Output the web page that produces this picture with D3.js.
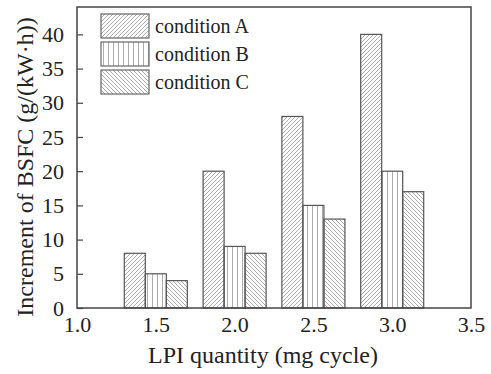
<!DOCTYPE html>
<html>
<head>
<meta charset="utf-8">
<script src="https://cdn.jsdelivr.net/npm/d3@7"></script>
<style>
  body { margin: 0; background: #fff; }
  svg { display: block; }
</style>
</head>
<body>
<script>
const quantities = [1.5, 2.0, 2.5, 3.0]
const conditions = ['condition A', 'condition B', 'condition C']
const conditionA = [8, 20, 28, 40]
const conditionB = [5, 9, 15, 20]
const conditionC = [4, 8, 13, 17]
const xTicks = [1.0, 1.5, 2.0, 2.5, 3.0, 3.5]
const yTicks = [0, 5, 10, 15, 20, 25, 30, 35, 40]

const series = [conditionA, conditionB, conditionC]
const rows = []
quantities.forEach((q, i) => {
  conditions.forEach((c, j) => rows.push({q, c, j, value: series[j][i]}))
})

const width = 491
const height = 374
const margin = {top: 7, right: 20, bottom: 66, left: 77}
const font = "'Liberation Serif', 'Times New Roman', serif"
const ink = '#444'

const svg = d3.select('body').append('svg')
  .attr('width', width)
  .attr('height', height)

// hatch patterns, one per condition
const hatch = ['hatchA', 'hatchB', 'hatchC']
const defs = svg.append('defs')
const s = 4
defs.append('pattern')
  .attr('id', 'hatchA').attr('patternUnits', 'userSpaceOnUse')
  .attr('width', s).attr('height', s)
  .append('path')
  .attr('d', `M-1,1 l2,-2 M0,${s} l${s},-${s} M${s - 1},${s + 1} l2,-2`)
  .attr('stroke', '#888').attr('stroke-width', 0.7)
defs.append('pattern')
  .attr('id', 'hatchB').attr('patternUnits', 'userSpaceOnUse')
  .attr('width', 5).attr('height', 5)
  .append('path')
  .attr('d', 'M2.5,0 V5')
  .attr('stroke', '#888').attr('stroke-width', 0.7)
defs.append('pattern')
  .attr('id', 'hatchC').attr('patternUnits', 'userSpaceOnUse')
  .attr('width', s).attr('height', s)
  .append('path')
  .attr('d', `M-1,${s - 1} l2,2 M0,0 l${s},${s} M${s - 1},-1 l2,2`)
  .attr('stroke', '#888').attr('stroke-width', 0.7)

const x = d3.scaleLinear()
  .domain([1.0, 3.5])
  .range([margin.left, width - margin.right])

const y = d3.scaleLinear()
  .domain([0, 44])
  .range([height - margin.bottom, margin.top])

const barW = x(1 + 0.1333) - x(1)

// bars
svg.append('g')
  .selectAll('rect')
  .data(rows)
  .join('rect')
    .attr('x', d => x(d.q) + (d.j - 1.5) * barW)
    .attr('y', d => y(d.value))
    .attr('width', barW)
    .attr('height', d => y(0) - y(d.value))
    .attr('fill', d => `url(#${hatch[d.j]})`)
    .attr('stroke', '#555')
    .attr('stroke-width', 1.2)

// frame
svg.append('rect')
  .attr('x', margin.left)
  .attr('y', margin.top)
  .attr('width', width - margin.left - margin.right)
  .attr('height', height - margin.top - margin.bottom)
  .attr('fill', 'none')
  .attr('stroke', ink)
  .attr('stroke-width', 1.5)

// y axis, ticks pointing inward
const yAxis = svg.append('g')
  .attr('transform', `translate(${margin.left},0)`)
  .call(d3.axisLeft(y).tickValues(yTicks).tickSize(-6).tickPadding(13).tickFormat(d3.format('d')))
yAxis.select('.domain').remove()
yAxis.selectAll('.tick line').attr('stroke', ink).attr('stroke-width', 1.2)
yAxis.selectAll('.tick text')
  .attr('font-family', font).attr('font-size', 22).attr('fill', '#222')

// x axis, labels only
const xAxis = svg.append('g')
  .attr('transform', `translate(0,${height - margin.bottom})`)
  .call(d3.axisBottom(x).tickValues(xTicks).tickSize(0).tickPadding(8).tickFormat(d3.format('.1f')))
xAxis.select('.domain').remove()
xAxis.selectAll('.tick text')
  .attr('font-family', font).attr('font-size', 22).attr('fill', '#222')

// axis titles
svg.append('text')
  .attr('x', 263)
  .attr('y', 363)
  .attr('text-anchor', 'middle')
  .attr('font-family', font)
  .attr('font-size', 24)
  .attr('fill', '#222')
  .text('LPI quantity (mg cycle)')

svg.append('text')
  .attr('transform', 'translate(33,167) rotate(-90)')
  .attr('text-anchor', 'middle')
  .attr('font-family', font)
  .attr('font-size', 24)
  .attr('fill', '#222')
  .text('Increment of BSFC (g/(kW·h))')

// legend
const legend = svg.append('g')
  .selectAll('g')
  .data(conditions)
  .join('g')
    .attr('transform', (_, i) => `translate(101,${14 + 28 * i})`)

legend.append('rect')
  .attr('width', 48)
  .attr('height', 24)
  .attr('fill', (_, i) => `url(#${hatch[i]})`)
  .attr('stroke', '#666')
  .attr('stroke-width', 1.2)

legend.append('text')
  .attr('x', 54)
  .attr('y', 19)
  .attr('font-family', font)
  .attr('font-size', 20)
  .attr('fill', '#222')
  .text(d => d)
</script>
</body>
</html>
